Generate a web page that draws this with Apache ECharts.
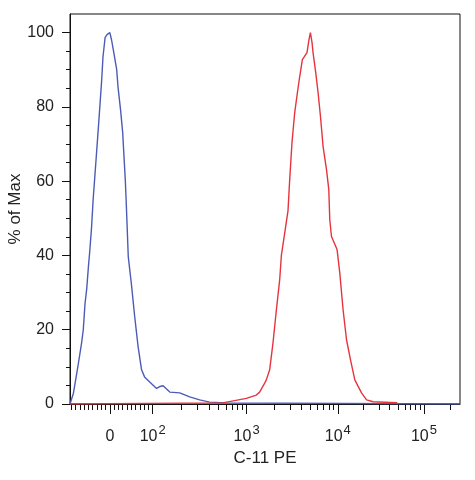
<!DOCTYPE html>
<html lang="en">
<head>
    <meta charset="UTF-8"/>
    <title>C-11 PE histogram</title>
    <script src="https://cdn.jsdelivr.net/npm/echarts@6/dist/echarts.min.js"></script>
    <style>
        html, body { margin: 0; padding: 0; background: #fff; }
        #chart { width: 475px; height: 480px; }
    </style>
</head>
<body>
<div id="chart"></div>
<script type="text/javascript">
    // blue histogram (fluorescence value, % of max)
    var blueX = [-93, -89, -85, -74, -66, -62, -58, -54, -50, -47, -43, -39, -31, -26, -19, -16, -11, -6, 0,
        4, 8, 16, 19, 25, 30, 33, 36, 38, 43, 50, 58, 66, 74, 81, 93, 110, 119, 129, 152, 194, 248, 316, 404, 608, 262144];
    var blueY = [0, 0.3, 2.9, 10.5, 16.4, 20, 27, 31, 37, 41, 47, 55, 67.7, 75.7, 87.3, 93.5, 98.7, 99.5, 100,
        98, 95.4, 90, 85.4, 79.2, 73, 66.6, 60.4, 55, 39.6, 32.6, 23.5, 15.4, 9.2, 7.3, 5.9, 4.2, 4.7, 4.9, 3.2, 3.0, 1.9, 1.1, 0.5, 0.3, 0];

    // red histogram
    var redX = [-93, 556, 745, 993, 1278, 1389, 1578, 1645, 1790, 1946, 2120, 2305, 2406, 2616, 2844, 2969, 3146,
        3367, 3605, 3820, 4090, 4595, 4832, 5010, 5220, 5354, 5730, 6080, 6460, 6900, 7520, 7970, 8170, 8530,
        9510, 9830, 10550, 11530, 12630, 14050, 15770, 18870, 21580, 25730, 48160, 50000];
    var redY = [0, 0.3, 0.9, 1.5, 2.4, 3.2, 5.6, 6.5, 9.2, 16.4, 25.3, 33.4, 40, 46, 52, 60.4, 70.4,
        78.4, 83.8, 88.1, 92.7, 94.6, 98.1, 100, 97.3, 94.6, 89.2, 83.8, 77.4, 69.3, 63.1, 57.7, 49.6, 45.1,
        42.4, 41.5, 35.3, 25.3, 17.3, 11.9, 6.5, 3.0, 1.1, 0.6, 0.35, 0];

    // x axis ticks (fluorescence values) and labels
    var xMajorTicks = [0, 100, 1000, 10000, 100000];
    var xMajorExp = [null, 2, 3, 4, 5];
    var xMinorTicks = [-90, -80, -70, -60, -50, -40, -30, -20, -10, 10, 20, 30, 40, 50, 60, 70, 80, 90,
        200, 300, 400, 500, 600, 700, 800, 900,
        2000, 3000, 4000, 5000, 6000, 7000, 8000, 9000,
        20000, 30000, 40000, 50000, 60000, 70000, 80000, 90000, 200000];
    var xRange = [-93, 262144];

    // y axis ticks
    var yMajorTicks = [0, 20, 40, 60, 80, 100];
    var yMinorTicks = [5, 10, 15, 25, 30, 35, 45, 50, 55, 65, 70, 75, 85, 90, 95];

    // biexponential-like display scale: linear around zero, log above 10^2
    function toDisplay(v) {
        if (v <= 100) return v * 0.0047;
        if (v <= 1000) return 0.47 + 1.03 * Math.log10(v / 100);
        if (v <= 10000) return 1.50 + Math.log10(v / 1000);
        return 2.50 + 0.945 * Math.log10(v / 10000);
    }

    function pairs(xs, ys) {
        var out = [];
        for (var i = 0; i < xs.length; i++) out.push([toDisplay(xs[i]), ys[i]]);
        return out;
    }

    var FONT = '"Liberation Sans", Arial, sans-serif';
    var TXT = '#222';
    var majorDisp = xMajorTicks.map(toDisplay);
    var minorDisp = xMinorTicks.map(toDisplay);
    var xMin = toDisplay(xRange[0]), xMax = toDisplay(xRange[1]);

    var myChart = echarts.init(document.getElementById('chart'));
    var option = {
        animation: false,
        grid: {
            left: 70, right: 15, top: 14, bottom: 76,
            containLabel: false, outerBoundsMode: 'none',
            show: true, borderColor: '#111', borderWidth: 1
        },
        xAxis: [
            {
                type: 'value', min: xMin, max: xMax, position: 'bottom',
                axisLine: {onZero: false, lineStyle: {color: '#111', width: 1}},
                axisTick: {customValues: majorDisp, length: 10, lineStyle: {color: '#111'}},
                splitLine: {show: false},
                axisLabel: {
                    customValues: majorDisp, margin: 20, color: TXT, fontFamily: FONT,
                    formatter: function (val) {
                        var idx = 0, best = Infinity;
                        for (var i = 0; i < majorDisp.length; i++) {
                            var d = Math.abs(majorDisp[i] - val);
                            if (d < best) { best = d; idx = i; }
                        }
                        var e = xMajorExp[idx];
                        return e === null ? '{zero|0}' : '{base|10}{sup|' + e + '}';
                    },
                    rich: {
                        base: {fontSize: 16, lineHeight: 16, fontFamily: FONT, color: TXT, verticalAlign: 'bottom'},
                        sup: {fontSize: 13, lineHeight: 21, fontFamily: FONT, color: TXT, verticalAlign: 'top', padding: [0, 0, 0, 1]},
                        zero: {fontSize: 16, lineHeight: 21, fontFamily: FONT, color: TXT, verticalAlign: 'bottom'}
                    }
                },
                name: 'C-11 PE', nameLocation: 'middle', nameGap: 46, nameMoveOverlap: false,
                nameTextStyle: {fontSize: 17, fontFamily: FONT, color: TXT}
            },
            {
                type: 'value', min: xMin, max: xMax, position: 'bottom',
                axisLine: {show: false, onZero: false},
                axisTick: {customValues: minorDisp, length: 6, lineStyle: {color: '#111'}},
                axisLabel: {show: false},
                splitLine: {show: false}
            }
        ],
        yAxis: [
            {
                type: 'value', min: 0, max: 105, position: 'left',
                axisLine: {show: true, onZero: false, lineStyle: {color: '#111', width: 1}},
                axisTick: {show: true, customValues: yMajorTicks, length: 8, lineStyle: {color: '#111'}},
                splitLine: {show: false},
                axisLabel: {customValues: yMajorTicks, margin: 16, fontSize: 16, fontFamily: FONT, color: TXT},
                name: '% of Max', nameLocation: 'middle', nameGap: 46, nameMoveOverlap: false,
                nameTextStyle: {fontSize: 17, fontFamily: FONT, color: TXT}
            },
            {
                type: 'value', min: 0, max: 105, position: 'left',
                axisLine: {show: false, onZero: false},
                axisTick: {show: true, customValues: yMinorTicks, length: 4, lineStyle: {color: '#111'}},
                axisLabel: {show: false},
                splitLine: {show: false}
            }
        ],
        series: [
            {
                name: 'blue', type: 'line', xAxisIndex: 0, yAxisIndex: 0,
                data: pairs(blueX, blueY), showSymbol: false,
                lineStyle: {color: '#4c5cb6', width: 1.4}
            },
            {
                name: 'red', type: 'line', xAxisIndex: 0, yAxisIndex: 0,
                data: pairs(redX, redY), showSymbol: false,
                lineStyle: {color: '#e6343f', width: 1.4}
            }
        ]
    };
    myChart.setOption(option);
</script>
</body>
</html>
